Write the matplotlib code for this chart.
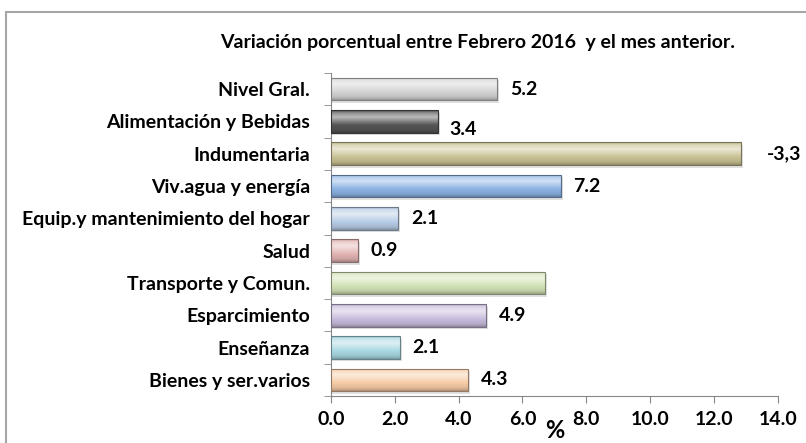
import numpy as np
import matplotlib
matplotlib.use("Agg")
import matplotlib.pyplot as plt
from matplotlib.colors import to_rgb, LinearSegmentedColormap
from matplotlib.patches import Rectangle

plt.rcParams['font.family'] = ['Lato', 'DejaVu Sans']

# data, top to bottom as in the chart
categories = ["Nivel Gral.", "Alimentación y Bebidas", "Indumentaria",
              "Viv.agua y energía", "Equip.y mantenimiento del hogar", "Salud",
              "Transporte y Comun.", "Esparcimiento", "Enseñanza",
              "Bienes y ser.varios"]
values = [5.2, 3.35, 12.85, 7.2, 2.1, 0.85, 6.7, 4.85, 2.15, 4.3]
value_labels = ["5.2", "3.4", "-3,3", "7.2", "2.1", "0.9", "", "4.9", "2.1", "4.3"]
colors = ["#d4d4d4", "#555555", "#c9c294", "#8cb3e3", "#b7cce6", "#e3b4b4",
          "#d3e2b6", "#c8bcdc", "#a9d9e3", "#f7cca6"]
xticks = [0, 2, 4, 6, 8, 10, 12, 14]

FS = 14

fig = plt.figure(figsize=(8.06, 4.43), dpi=100)
ax = fig.add_axes([0.4107, 0.1061, 0.965 - 0.4107, 0.8352 - 0.1061])

y = np.arange(len(categories))
bars = ax.barh(y, values, height=0.7, color="none", edgecolor="none", zorder=3)


def bevel(c):
    # vertical gradient: dark bottom, light highlight near the top
    base = np.array(to_rgb(c))
    white = np.ones(3)
    dark = base * 0.72
    stops = [(0.0, dark), (0.12, base * 0.9), (0.35, base),
             (0.7, base * 0.4 + white * 0.6), (0.88, base * 0.65 + white * 0.35),
             (1.0, base * 0.92)]
    return LinearSegmentedColormap.from_list("b", stops)


grad = np.linspace(0, 1, 64).reshape(-1, 1)
for bar, c in zip(bars, colors):
    x0, yb = bar.get_x(), bar.get_y()
    w, h = bar.get_width(), bar.get_height()
    # shadow
    ax.add_patch(Rectangle((x0, yb + 0.08), w + 0.06, h, facecolor="#000000",
                           alpha=0.12, edgecolor="none", zorder=2))
    im = ax.imshow(grad, extent=[x0, x0 + w, yb + h, yb], origin="lower",
                   cmap=bevel(c), aspect="auto", zorder=3)
    im.set_clip_path(bar)
    edge = np.array(to_rgb(c)) * 0.6
    ax.add_patch(Rectangle((x0, yb), w, h, facecolor="none", edgecolor=edge,
                           lw=0.8, zorder=4))

# value labels, Excel style placement
for i, (bar, lab) in enumerate(zip(bars, value_labels)):
    if not lab:
        continue
    cy = bar.get_y() + bar.get_height() / 2
    if lab.startswith("-"):
        ax.text(13.65, cy, lab, ha="left", va="center", fontsize=FS,
                fontweight="bold", zorder=5, clip_on=False)
    elif i == 1:
        ax.text(bar.get_width() + 0.35, cy + 0.25, lab, ha="left", va="center",
                fontsize=FS, fontweight="bold", zorder=5)
    else:
        ax.text(bar.get_width() + 0.4, cy, lab, ha="left", va="center",
                fontsize=FS, fontweight="bold", zorder=5)

ax.set_xlim(0, 14)
ax.set_ylim(len(categories) - 0.5, -0.5)
ax.set_xticks(xticks)
ax.set_xticklabels(["%.1f" % t for t in xticks], fontsize=FS, fontweight="bold")
ax.set_yticks(y)
ax.set_yticklabels(categories, fontsize=FS, fontweight="bold")
ax.set_yticks(np.arange(len(categories) + 1) - 0.5, minor=True)
ax.tick_params(axis="y", which="major", length=0, pad=15)
ax.tick_params(axis="y", which="minor", length=5, color="#868686")
ax.tick_params(axis="x", length=5, color="#868686", pad=6)
for s in ["top", "right"]:
    ax.spines[s].set_visible(False)
for s in ["left", "bottom"]:
    ax.spines[s].set_color("#868686")
ax.set_xlabel("%", fontsize=17, fontweight="bold", va="center")
ax.xaxis.set_label_coords(0.501, -0.108)

fig.text(0.593, 0.903, "Variación porcentual entre Febrero 2016  y el mes anterior.",
         ha="center", va="center", fontsize=FS, fontweight="bold")

# outer chart frame (runs off the right and bottom edge)
fig.patches.append(Rectangle((6 / 806, -0.2), 1.2, 0.2 + 1 - 12 / 443,
                             transform=fig.transFigure, facecolor="none",
                             edgecolor="#a6a6a6", lw=1.5))

fig.savefig("out.png", dpi=100)
